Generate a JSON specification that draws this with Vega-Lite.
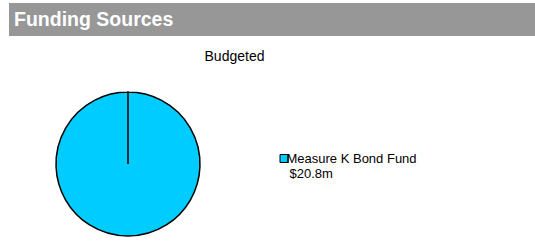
{
  "$schema": "https://vega.github.io/schema/vega-lite/v6.json",
  "background": "white",
  "padding": {"left": 9, "top": 3, "right": 0, "bottom": 0},
  "spacing": 14,
  "config": {"view": {"stroke": null}, "font": "Liberation Sans"},
  "vconcat": [
    {
      "width": 526,
      "height": 33,
      "view": {"fill": "#979797", "stroke": null},
      "data": {"values": [{"label": "Funding Sources"}]},
      "mark": {"type": "text", "align": "left", "baseline": "middle", "dx": 5, "font": "Liberation Sans", "fontSize": 19.5, "fontWeight": "bold", "fill": "white"},
      "encoding": {
        "x": {"field": "label", "type": "nominal", "axis": null, "scale": {"type": "point", "padding": 0, "align": 0}},
        "text": {"field": "label"}
      }
    },
    {
      "width": 238,
      "height": 144,
      "title": {"text": "Budgeted", "frame": "group", "anchor": "middle", "dx": 106.5, "offset": 14, "baseline": "alphabetic", "fontSize": 14, "fontWeight": "normal", "font": "Liberation Sans", "color": "black"},
      "data": {"values": [{"source": "Measure K Bond Fund", "amount": 20.8}]},
      "mark": {"type": "arc", "stroke": "black", "strokeWidth": 1.5},
      "encoding": {
        "theta": {"field": "amount", "type": "quantitative", "scale": {"range": [0, 6.2831]}},
        "color": {
          "field": "source",
          "type": "nominal",
          "scale": {"range": ["#00CCFF"]},
          "legend": {
            "title": "$20.8m",
            "orient": "none",
            "legendX": 280.5,
            "legendY": 149,
            "titleOrient": "bottom",
            "titleAnchor": "start",
            "titleFontSize": 13,
            "titleFontWeight": "normal",
            "titleColor": "black",
            "titleFont": "Liberation Sans",
            "titlePadding": 2,
            "symbolType": "square",
            "symbolSize": 64,
            "symbolStrokeColor": "black",
            "symbolStrokeWidth": 1,
            "symbolOffset": -12,
            "labelFontSize": 13,
            "labelColor": "black",
            "labelFont": "Liberation Sans",
            "labelOffset": -4,
            "padding": 0
          }
        }
      }
    }
  ]
}
